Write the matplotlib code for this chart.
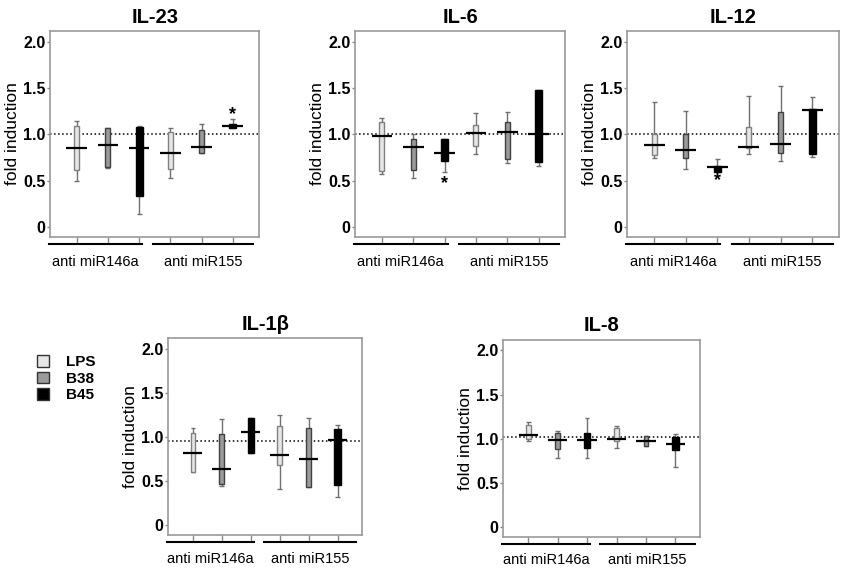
import matplotlib
matplotlib.use("Agg")
import matplotlib.pyplot as plt
from matplotlib.patches import Patch

plt.rcParams['font.family'] = ['Liberation Sans', 'DejaVu Sans']

groups = ['anti miR146a', 'anti miR155']
treatments = ['LPS', 'B38', 'B45']

# per panel: 6 boxes (LPS, B38, B45 for miR146a, then miR155)
panels = ['IL-23', 'IL-6', 'IL-12', 'IL-1β', 'IL-8']

whis_hi = {
    'IL-23': [1.15, 1.07, 1.09, 1.07, 1.11, 1.17],
    'IL-6':  [1.18, 1.01, 0.95, 1.23, 1.24, 1.48],
    'IL-12': [1.35, 1.25, 0.74, 1.42, 1.52, 1.41],
    'IL-1β': [1.10, 1.20, 1.21, 1.25, 1.21, 1.14],
    'IL-8':  [1.19, 1.09, 1.23, 1.14, 1.03, 1.05],
}
q3 = {
    'IL-23': [1.09, 1.07, 1.08, 1.03, 1.05, 1.11],
    'IL-6':  [1.13, 0.95, 0.95, 1.10, 1.14, 1.48],
    'IL-12': [1.01, 1.01, 0.66, 1.08, 1.24, 1.28],
    'IL-1β': [1.05, 1.03, 1.21, 1.12, 1.10, 1.09],
    'IL-8':  [1.15, 1.07, 1.07, 1.12, 1.03, 1.02],
}
medians = {
    'IL-23': [0.85, 0.89, 0.85, 0.80, 0.87, 1.09],
    'IL-6':  [0.98, 0.87, 0.80, 1.02, 1.03, 1.00],
    'IL-12': [0.89, 0.83, 0.65, 0.87, 0.90, 1.27],
    'IL-1β': [0.82, 0.64, 1.06, 0.80, 0.75, 0.97],
    'IL-8':  [1.04, 0.99, 0.985, 1.00, 0.97, 0.94],
}
q1 = {
    'IL-23': [0.62, 0.65, 0.33, 0.63, 0.80, 1.07],
    'IL-6':  [0.61, 0.62, 0.71, 0.88, 0.73, 0.70],
    'IL-12': [0.78, 0.75, 0.59, 0.85, 0.80, 0.79],
    'IL-1β': [0.60, 0.47, 0.82, 0.68, 0.43, 0.46],
    'IL-8':  [1.00, 0.88, 0.89, 0.97, 0.92, 0.87],
}
whis_lo = {
    'IL-23': [0.50, 0.64, 0.14, 0.53, 0.80, 1.07],
    'IL-6':  [0.57, 0.53, 0.59, 0.79, 0.69, 0.66],
    'IL-12': [0.75, 0.63, 0.59, 0.79, 0.71, 0.76],
    'IL-1β': [0.60, 0.44, 0.82, 0.41, 0.43, 0.32],
    'IL-8':  [0.97, 0.78, 0.78, 0.89, 0.92, 0.68],
}
ref_line = {'IL-23': 1.0, 'IL-6': 1.0, 'IL-12': 1.0, 'IL-1β': 0.95, 'IL-8': 1.02}
# significance stars: (box index, y position)
stars = {'IL-23': [(5, 1.22)], 'IL-6': [(2, 0.47)], 'IL-12': [(2, 0.50)]}

yticks = [0, 0.5, 1.0, 1.5, 2.0]
ytick_labels = ['0', '0.5', '1.0', '1.5', '2.0']

face = ['#e6e6e6', '#9a9a9a', '#000000']
edge = ['#808080', '#404040', '#000000']
box_w = [0.16, 0.16, 0.22]

# axes rectangles in figure fraction
rects = {
    'IL-23': [0.059, 0.587, 0.246, 0.359],
    'IL-6':  [0.418, 0.587, 0.247, 0.359],
    'IL-12': [0.738, 0.587, 0.249, 0.359],
    'IL-1β': [0.198, 0.068, 0.228, 0.343],
    'IL-8':  [0.592, 0.065, 0.232, 0.343],
}

fig = plt.figure(figsize=(8.5, 5.74), dpi=100)

for name in panels:
    ax = fig.add_axes(rects[name])
    pos = list(range(1, 7))
    for i, x in enumerate(pos):
        t = i % 3
        ax.vlines(x, whis_lo[name][i], whis_hi[name][i], color='#707070', lw=1, zorder=1)
        ax.hlines([whis_lo[name][i], whis_hi[name][i]], x - 0.08, x + 0.08,
                  color='#707070', lw=1, zorder=1)
        ax.bar(x, q3[name][i] - q1[name][i], bottom=q1[name][i], width=box_w[t],
               color=face[t], edgecolor=edge[t], linewidth=1, zorder=2)
        ax.hlines(medians[name][i], x - 0.33, x + 0.33, color='black', lw=1.6, zorder=3)
    ax.axhline(ref_line[name], color='black', ls=':', lw=1.1, zorder=0)
    for i, yy in stars.get(name, []):
        ax.text(pos[i], yy, '*', ha='center', va='center', fontsize=13, fontweight='bold')

    ax.set_xlim(0.15, 6.85)
    ax.set_ylim(-0.11, 2.12)
    ax.set_xticks(pos)
    ax.set_xticklabels([])
    ax.set_yticks(yticks)
    ax.set_yticklabels(ytick_labels, fontsize=11.5, fontweight='bold')
    ax.tick_params(axis='x', length=4, color='#888888', width=1)
    ax.tick_params(axis='y', length=2, color='#888888', width=1, pad=1.5)
    for s in ax.spines.values():
        s.set_color('#999999')
        s.set_linewidth(1.2)
    ax.set_ylabel('fold induction', fontsize=12.5, labelpad=2)
    ax.set_title(name, fontsize=14.5, fontweight='bold', pad=6)

    # group underlines and labels
    for g, (x0, x1) in enumerate([(0.1, 3.1), (3.45, 6.65)]):
        ax.plot([x0, x1], [-0.035, -0.035], color='black', lw=1.5,
                transform=ax.get_xaxis_transform(), clip_on=False)
        ax.text((x0 + x1) / 2, -0.12, groups[g], ha='center', va='center',
                fontsize=10.5, transform=ax.get_xaxis_transform())

handles = [Patch(facecolor=face[t], edgecolor='#333333', label=treatments[t]) for t in range(3)]
fig.legend(handles=handles, loc='upper left', bbox_to_anchor=(0.027, 0.405), frameon=False,
           handlelength=0.8, handleheight=0.8, handletextpad=1.1, labelspacing=0.15,
           prop={'weight': 'bold', 'size': 11})

fig.savefig('out.png', dpi=100)
